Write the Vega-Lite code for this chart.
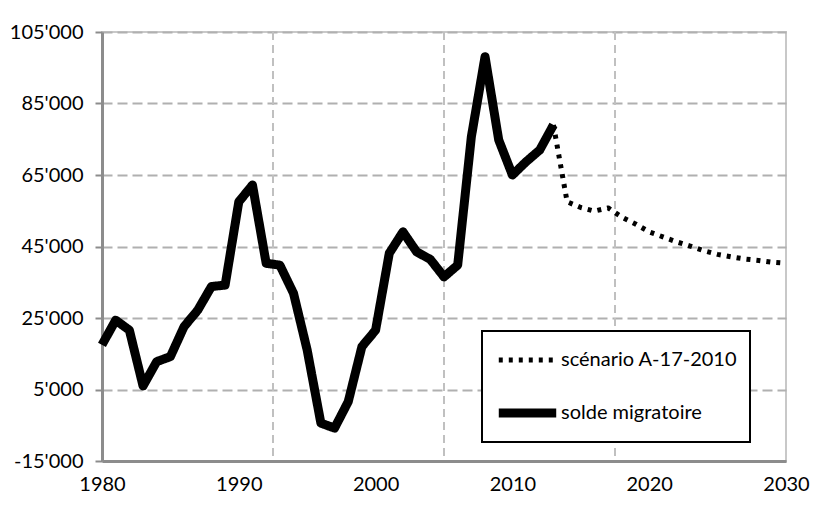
{
  "$schema": "https://vega.github.io/schema/vega-lite/v6.json",
  "width": 684,
  "height": 429,
  "autosize": {"type": "none"},
  "padding": {"left": 102, "top": 32, "right": 27, "bottom": 44},
  "background": "white",
  "config": {
    "locale": {"number": {"decimal": ".", "thousands": "'", "grouping": [3], "currency": ["", ""], "minus": "-"}},
    "view": {"stroke": "#c8c8c8", "strokeWidth": 2},
    "font": "Lato",
    "legend": {"strokeWidth": 2},
    "axis": {"labelFont": "Lato", "labelColor": "black", "labelFontSize": 20, "domainColor": "#8c8c8c", "domainWidth": 3, "tickColor": "#8c8c8c", "tickWidth": 2}
  },
  "datasets": {
    "grid": [{"g": 1992.5}, {"g": 2005}, {"g": 2017.5}],
    "series": [
      {"year": 1980, "value": 17500, "series": "solde migratoire"},
      {"year": 1981, "value": 24400, "series": "solde migratoire"},
      {"year": 1982, "value": 21600, "series": "solde migratoire"},
      {"year": 1983, "value": 6000, "series": "solde migratoire"},
      {"year": 1984, "value": 12800, "series": "solde migratoire"},
      {"year": 1985, "value": 14200, "series": "solde migratoire"},
      {"year": 1986, "value": 22600, "series": "solde migratoire"},
      {"year": 1987, "value": 27200, "series": "solde migratoire"},
      {"year": 1988, "value": 33800, "series": "solde migratoire"},
      {"year": 1989, "value": 34200, "series": "solde migratoire"},
      {"year": 1990, "value": 57500, "series": "solde migratoire"},
      {"year": 1991, "value": 62200, "series": "solde migratoire"},
      {"year": 1992, "value": 40300, "series": "solde migratoire"},
      {"year": 1993, "value": 39800, "series": "solde migratoire"},
      {"year": 1994, "value": 31900, "series": "solde migratoire"},
      {"year": 1995, "value": 16000, "series": "solde migratoire"},
      {"year": 1996, "value": -4400, "series": "solde migratoire"},
      {"year": 1997, "value": -5800, "series": "solde migratoire"},
      {"year": 1998, "value": 1600, "series": "solde migratoire"},
      {"year": 1999, "value": 17000, "series": "solde migratoire"},
      {"year": 2000, "value": 21600, "series": "solde migratoire"},
      {"year": 2001, "value": 43100, "series": "solde migratoire"},
      {"year": 2002, "value": 49100, "series": "solde migratoire"},
      {"year": 2003, "value": 43500, "series": "solde migratoire"},
      {"year": 2004, "value": 41400, "series": "solde migratoire"},
      {"year": 2005, "value": 36500, "series": "solde migratoire"},
      {"year": 2006, "value": 39800, "series": "solde migratoire"},
      {"year": 2007, "value": 75700, "series": "solde migratoire"},
      {"year": 2008, "value": 98100, "series": "solde migratoire"},
      {"year": 2009, "value": 74800, "series": "solde migratoire"},
      {"year": 2010, "value": 65000, "series": "solde migratoire"},
      {"year": 2011, "value": 68700, "series": "solde migratoire"},
      {"year": 2012, "value": 72000, "series": "solde migratoire"},
      {"year": 2013, "value": 79000, "series": "solde migratoire"},
      {"year": 2013, "value": 79000, "series": "scénario A-17-2010"},
      {"year": 2014, "value": 57500, "series": "scénario A-17-2010"},
      {"year": 2015, "value": 55900, "series": "scénario A-17-2010"},
      {"year": 2016, "value": 54900, "series": "scénario A-17-2010"},
      {"year": 2017, "value": 55800, "series": "scénario A-17-2010"},
      {"year": 2018, "value": 53200, "series": "scénario A-17-2010"},
      {"year": 2019, "value": 51300, "series": "scénario A-17-2010"},
      {"year": 2020, "value": 49100, "series": "scénario A-17-2010"},
      {"year": 2021, "value": 47700, "series": "scénario A-17-2010"},
      {"year": 2022, "value": 46300, "series": "scénario A-17-2010"},
      {"year": 2023, "value": 45100, "series": "scénario A-17-2010"},
      {"year": 2024, "value": 43800, "series": "scénario A-17-2010"},
      {"year": 2025, "value": 42800, "series": "scénario A-17-2010"},
      {"year": 2026, "value": 42100, "series": "scénario A-17-2010"},
      {"year": 2027, "value": 41500, "series": "scénario A-17-2010"},
      {"year": 2028, "value": 41100, "series": "scénario A-17-2010"},
      {"year": 2029, "value": 40600, "series": "scénario A-17-2010"},
      {"year": 2030, "value": 40300, "series": "scénario A-17-2010"}
    ]
  },
  "layer": [
    {
      "data": {"name": "grid"},
      "mark": {"type": "rule", "color": "#c0c0c0", "strokeWidth": 2, "strokeDash": [8, 5]},
      "encoding": {
        "x": {"field": "g", "type": "quantitative", "scale": {"domain": [1980, 2030], "nice": false, "zero": false}}
      }
    },
    {
      "data": {"name": "series"},
      "mark": {"type": "line", "strokeCap": "butt", "strokeJoin": "round"},
      "encoding": {
        "x": {
          "field": "year", "type": "quantitative",
          "scale": {"domain": [1980, 2030], "nice": false, "zero": false},
          "axis": {"title": null, "values": [1980, 1990, 2000, 2010, 2020, 2030], "format": "d", "grid": false, "ticks": false, "labelPadding": 13, "labelFlush": false}
        },
        "y": {
          "field": "value", "type": "quantitative",
          "scale": {"domain": [-15000, 105000], "nice": false, "zero": false},
          "axis": {"title": null, "values": [-15000, 5000, 25000, 45000, 65000, 85000, 105000], "format": ",.0f", "grid": true, "gridColor": "#b0b0b0", "gridWidth": 2, "gridDash": [10, 5], "tickSize": 7, "labelPadding": 12}
        },
        "color": {
          "field": "series", "type": "nominal",
          "scale": {"domain": ["scénario A-17-2010", "solde migratoire"], "range": ["black", "black"]},
          "legend": {
            "title": null, "orient": "none", "legendX": 380, "legendY": 299,
            "fillColor": "white", "strokeColor": "black",
            "padding": 12, "symbolType": "stroke", "symbolSize": 3300,
            "clipHeight": 34, "rowPadding": 19,
            "labelFontSize": 20, "labelFont": "Lato", "labelColor": "black", "labelOffset": 0, "labelLimit": 400
          }
        },
        "strokeDash": {
          "field": "series", "type": "nominal",
          "scale": {"domain": ["scénario A-17-2010", "solde migratoire"], "range": [[4, 6], [1, 0]]}
        },
        "strokeWidth": {
          "field": "series", "type": "nominal",
          "scale": {"domain": ["scénario A-17-2010", "solde migratoire"], "range": [5, 9]}
        }
      }
    }
  ]
}
